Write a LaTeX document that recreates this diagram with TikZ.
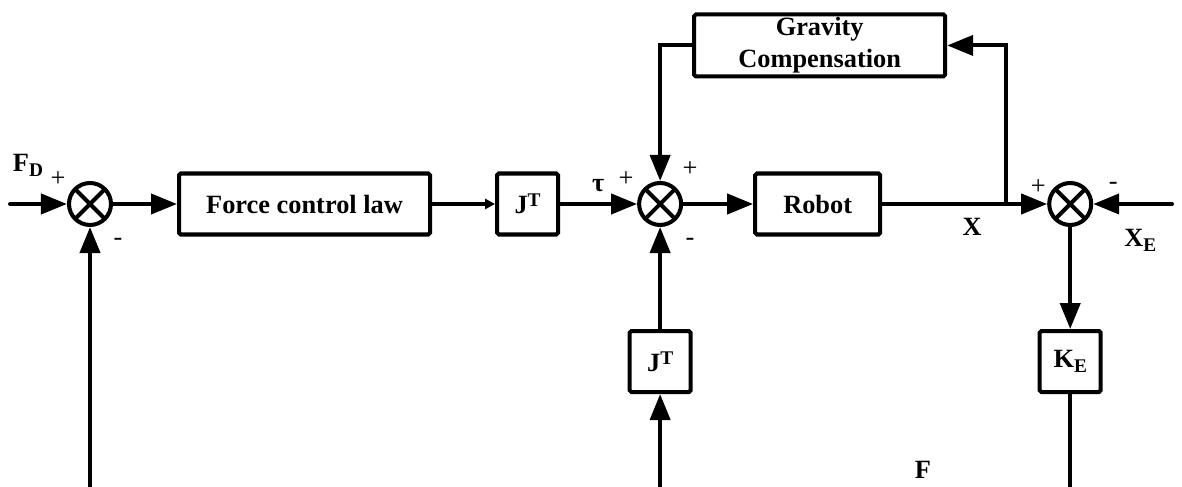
\documentclass[tikz,border=0pt]{standalone}
\usepackage{fontspec}
\setmainfont{Liberation Serif}
\usetikzlibrary{arrows.meta, positioning, calc}
\newcommand{\upidx}[1]{\raisebox{0.6ex}{\fontsize{11}{11}\selectfont #1}}
\newcommand{\lowidx}[1]{\raisebox{-0.4ex}{\fontsize{11}{11}\selectfont #1}}
\tikzset{
  block/.style={
    draw=black,
    line width=2.3pt,
    rounded corners=1pt,
    align=center,
    inner sep=0pt,
    font=\fontsize{15}{17}\selectfont\bfseries
  },
  wide/.style={block, minimum width=5.02cm, minimum height=1.22cm},
  gain/.style={block, minimum width=1.22cm, minimum height=1.22cm},
  plant/.style={block, minimum width=2.5cm, minimum height=1.22cm},
  sumnode/.style={
    circle, draw=black, line width=2.3pt, minimum size=0.84cm, inner sep=0pt,
    path picture={
      \draw[line width=2.3pt]
        (path picture bounding box.north west) -- (path picture bounding box.south east)
        (path picture bounding box.north east) -- (path picture bounding box.south west);
    }
  },
  wire/.style={line width=2.3pt, line cap=round},
  arrow/.style={wire, -{Triangle[length=0.52cm, width=0.4cm]}},
  smallarrow/.style={wire, -{Triangle[length=0.2cm, width=0.2cm]}},
  sign/.style={font=\fontsize{15}{17}\selectfont, inner sep=0pt},
  lbl/.style={font=\fontsize{15}{17}\selectfont\bfseries, inner sep=0pt}
}
\begin{document}
\begin{tikzpicture}[node distance=1.3cm and 1.3cm]
  \useasboundingbox (0,0) rectangle (23.64,9.74);
  \coordinate (bot) at (0,0);

  \node[sumnode] (sum1) at (1.8,5.66) {};
  \node[wide, right=1.28cm of sum1] (law) {Force control law};
  \node[gain, right=1.26cm of law] (jt1) {J\upidx{T}};
  \node[sumnode, right=1.54cm of jt1] (sum2) {};
  \node[plant, right=1.40cm of sum2] (robot) {Robot};
  \node[sumnode, right=3.30cm of robot] (sum3) {};
  \node[wide, minimum height=1.24cm, above=1.86cm of robot, xshift=0.04cm] (grav) {Gravity\\[1pt]Compensation};
  \node[gain, below=2.04cm of sum2] (jt2) {J\upidx{T}};
  \node[gain, below=2.04cm of sum3] (ke) {K\lowidx{E}};

  \coordinate (fin) at (0.2,5.66);
  \coordinate (xein) at (23.44,5.66);
  \coordinate[right=2.48cm of robot.east] (branch);

  % forward path
  \draw[arrow] (fin) -- (sum1);
  \draw[arrow] (sum1) -- (law);
  \draw[smallarrow] (law) -- (jt1);
  \draw[arrow] (jt1) -- (sum2);
  \draw[arrow] (sum2) -- (robot);
  \draw[wire] (robot) -- (branch);
  \draw[arrow] (branch) -- (sum3);
  \draw[arrow] (xein) -- (sum3);

  % gravity loop
  \draw[arrow] (branch) |- (grav.east);
  \draw[arrow] (grav.west) -| (sum2.north);

  % feedback
  \draw[arrow] (sum3) -- (ke);
  \draw[wire] (ke) -- (ke |- bot);
  \draw[arrow] (jt2) -- (sum2);
  \draw[arrow] (jt2 |- bot) -- (jt2);
  \draw[arrow] (sum1 |- bot) -- (sum1);

  % labels
  \node[lbl] (fd) at ($(sum1)+(-1.24,0.78)$) {F\lowidx{D}};
  \node[sign] (p1) at ($(sum1)+(-0.64,0.5)$) {+};
  \node[sign] (m1) at ($(sum1)+(0.56,-0.76)$) {-};
  \node[lbl] (tau) at ($(sum2)+(-1.24,0.36)$) {τ};
  \node[sign] (p2) at ($(sum2)+(-0.68,0.5)$) {+};
  \node[sign] (p3) at ($(sum2)+(0.6,0.7)$) {+};
  \node[sign] (m2) at ($(sum2)+(0.6,-0.76)$) {-};
  \node[lbl] (xl) at ($(sum3)+(-1.96,-0.46)$) {X};
  \node[sign] (p4) at ($(sum3)+(-0.64,0.34)$) {+};
  \node[sign] (m3) at ($(sum3)+(0.86,0.36)$) {-};
  \node[lbl] (xe) at ($(sum3)+(1.4,-0.72)$) {X\lowidx{E}};
  \node[lbl] (fl) at (18.46,0.34) {F};
\end{tikzpicture}
\end{document}
